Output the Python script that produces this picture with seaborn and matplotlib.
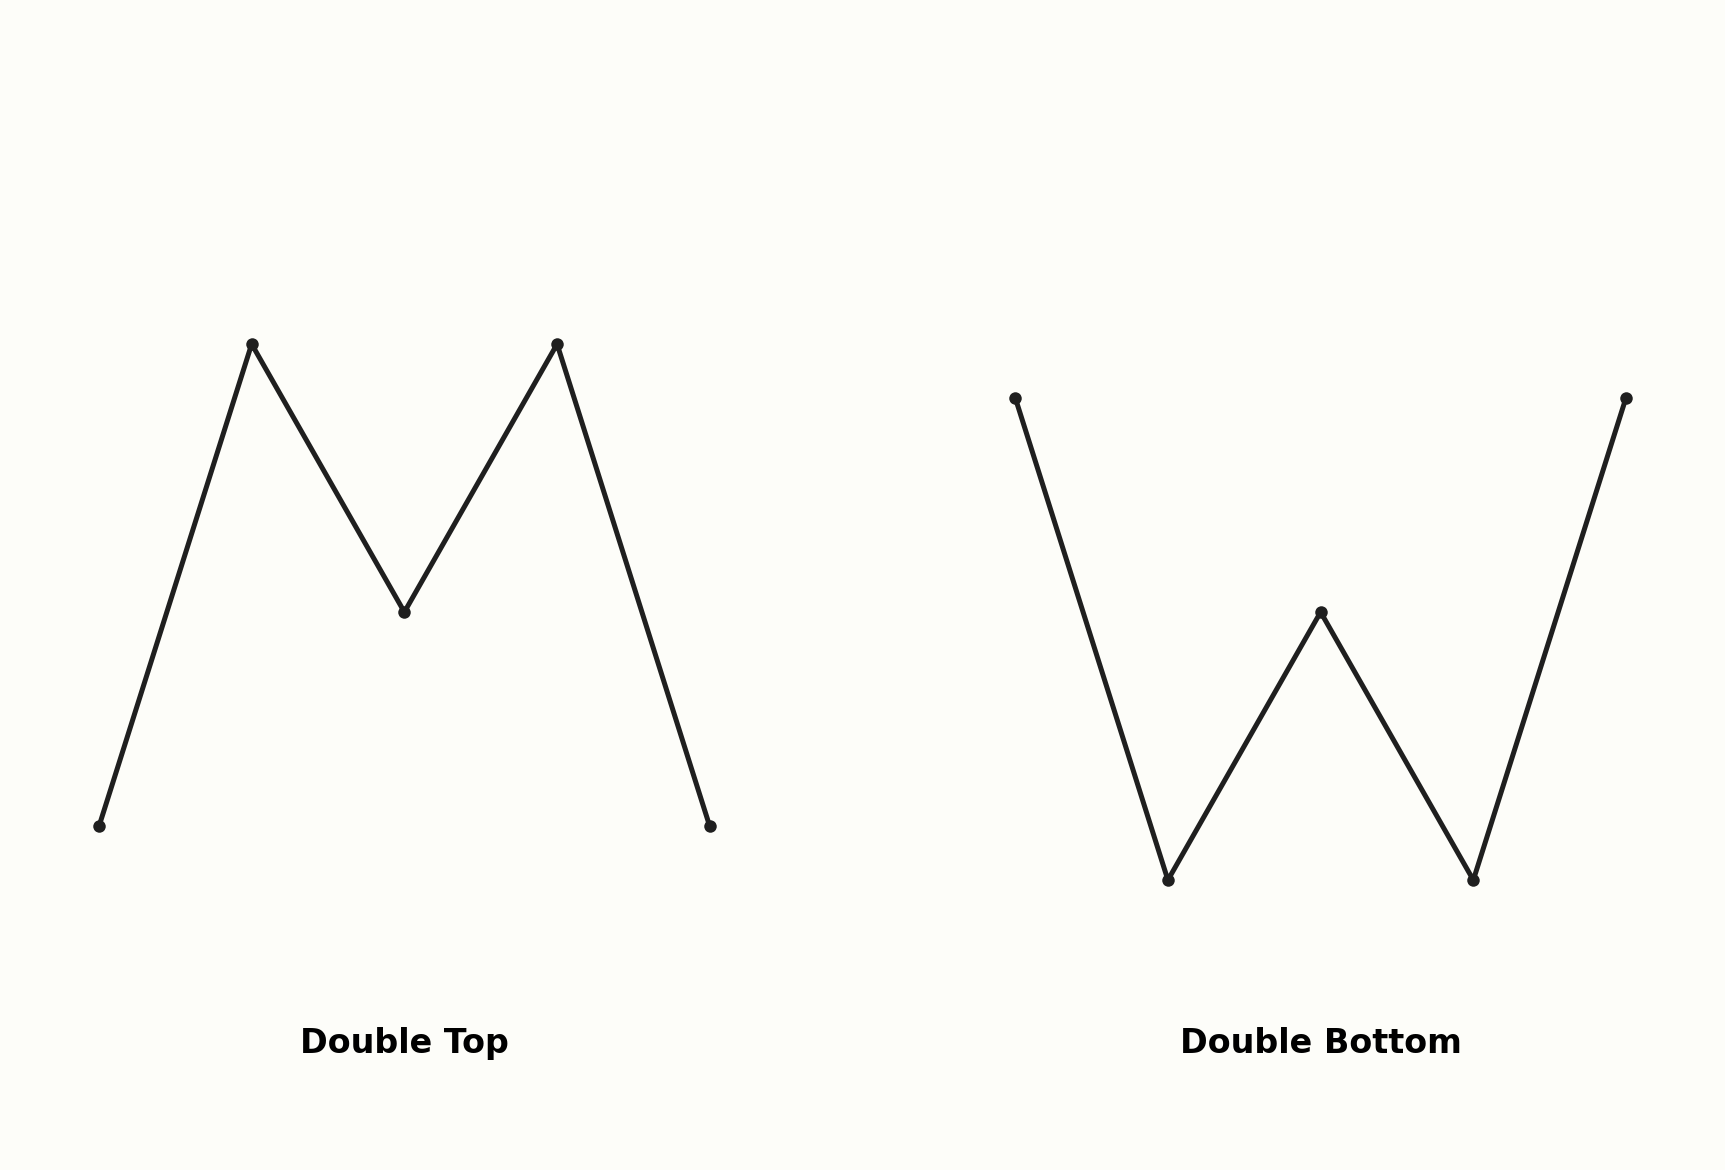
import matplotlib
matplotlib.use("Agg")
import matplotlib.pyplot as plt
import pandas as pd
import seaborn as sns

# pattern data
patterns = ["Double Top", "Double Bottom"]
top_x = [0, 1, 2, 3, 4]
top_y = [1, 10, 5, 10, 1]
bottom_x = [6, 7, 8, 9, 10]
bottom_y = [9, 0, 5, 0, 9]
label_y = -3.05

BG = "#fdfdf9"
INK = "#1f1f1f"

sns.set_theme(style="white")
plt.rcParams["font.family"] = ["DejaVu Sans"]

df = pd.DataFrame({
    "x": top_x + bottom_x,
    "y": top_y + bottom_y,
    "pattern": [patterns[0]] * len(top_x) + [patterns[1]] * len(bottom_x),
})

fig = plt.figure(figsize=(11.5, 7.8), dpi=150, facecolor=BG)
ax = fig.add_axes([0, 0, 1, 1])
ax.set_facecolor(BG)

for name, grp in df.groupby("pattern", sort=False):
    sns.lineplot(data=grp, x="x", y="y", ax=ax, color=INK, linewidth=2.4,
                 marker="o", markersize=6, markeredgewidth=0, estimator=None,
                 sort=False, legend=False)
    ax.text(grp["x"].mean(), label_y, name, ha="center", va="center",
            fontsize=16, fontweight="bold", color="black")

ax.set_xlim(-0.648, 10.648)
ax.set_ylim(-5.41, 16.42)
ax.axis("off")

fig.savefig("out.png", dpi=150, facecolor=BG)
